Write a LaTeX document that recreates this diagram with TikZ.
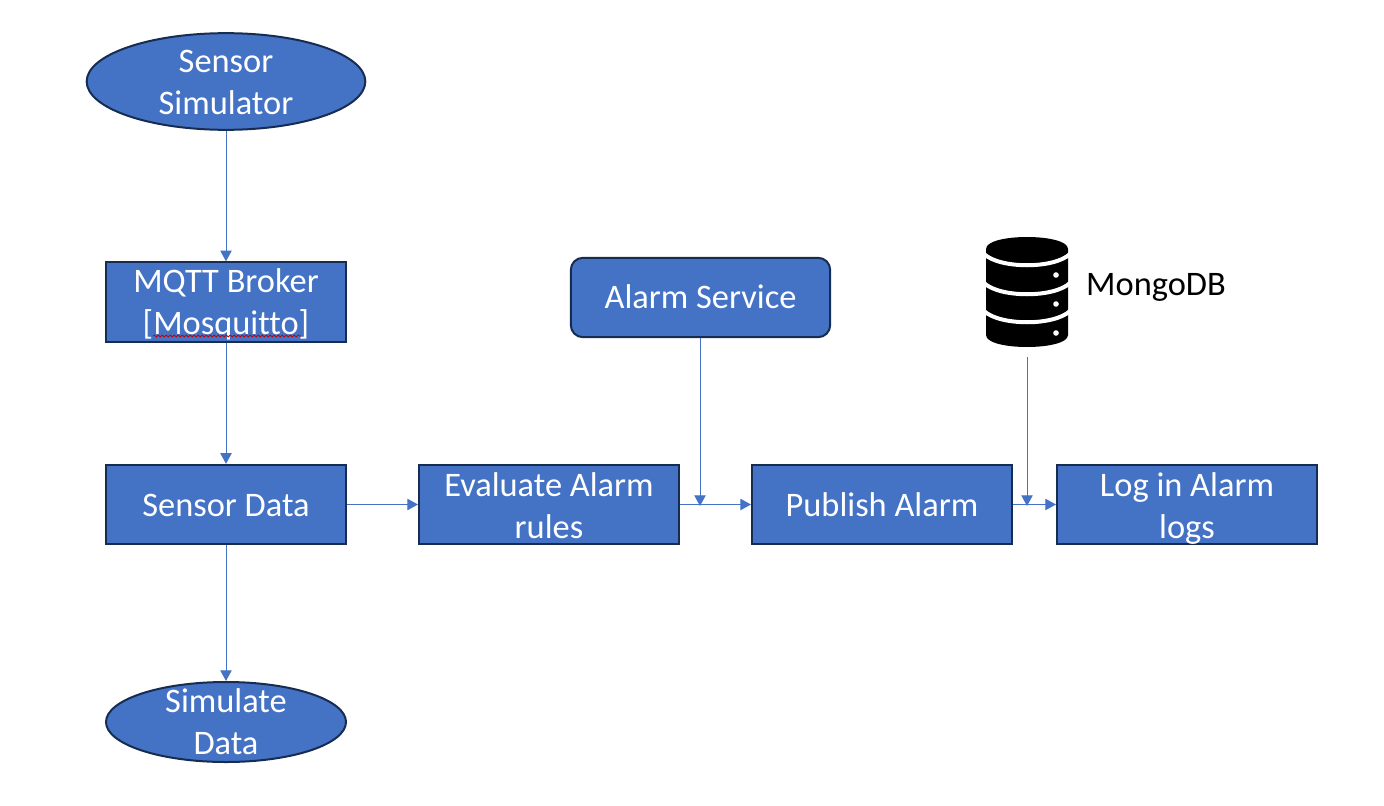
\documentclass[tikz,border=0pt]{standalone}
\usepackage{fontspec}
\setmainfont[Ligatures=NoCommon]{Carlito}
\usetikzlibrary{arrows.meta,shapes.geometric,decorations.pathmorphing}
\definecolor{fillblue}{HTML}{4472C4}
\definecolor{edgeblue}{HTML}{172C51}
\newcommand{\dropped}[2]{\raisebox{\dimexpr -6.45pt-#1\relax}[0pt][0pt]{\begin{tabular}{@{}c@{}}#2\end{tabular}}}
\tikzset{
  x=0.75pt,y=-0.75pt,
  base/.style={draw=edgeblue,line width=1.5pt,fill=fillblue,text=white,align=center,inner sep=0pt,
    font=\fontsize{25.8}{31.5}\selectfont},
  boxnode/.style={base,rectangle,minimum width=180pt,minimum height=59.5pt},
  widebox/.style={base,rectangle,minimum width=195pt,minimum height=59.5pt},
  oval/.style={base,ellipse},
  link/.style={draw=fillblue,line width=0.75pt,-{Triangle[length=8pt,width=8.5pt]}},
  dbwhite/.style={draw=white,line width=3pt}
}
\begin{document}
\begin{tikzpicture}
\useasboundingbox (0,0) rectangle (1384,806);
\node[oval,minimum width=209pt,minimum height=72.5pt] (sim) at (226,81.5) {\dropped{2.2pt}{Sensor\\Simulator}};
\node[boxnode] (mqtt) at (226,302) {\dropped{2.2pt}{MQTT Broker\\{[Mosquitto]}}};
\node[boxnode] (data) at (226,504.5) {\dropped{2.2pt}{Sensor Data}};
\node[oval,minimum width=180pt,minimum height=60pt] (sd) at (226,722) {\dropped{1.9pt}{Simulate\\Data}};
\node[widebox] (eval) at (549,504.5) {\dropped{2.9pt}{Evaluate Alarm\\rules}};
\node[widebox] (pub) at (882,504.5) {\dropped{2.4pt}{Publish Alarm}};
\node[widebox] (log) at (1187,504.5) {\dropped{2.9pt}{Log in Alarm\\logs}};
\node[base,rectangle,rounded corners=9pt,minimum width=194.5pt,minimum height=59.5pt] (svc) at (700.5,297.5) {\dropped{1.6pt}{Alarm Service}};
\node[font=\fontsize{25.8}{31.5}\selectfont,text=black,inner sep=0pt] (mongo) at (1156,287.5) {MongoDB};
% database icon
\fill[black] (986,249) .. controls (986,233) and (1068,233) .. (1068,249)
  -- (1068,335) .. controls (1068,351) and (986,351) .. (986,335) -- cycle;
\draw[dbwhite] (984,254) .. controls (1000,269) and (1054,269) .. (1070,254);
\draw[dbwhite] (984,283) .. controls (1000,298) and (1054,298) .. (1070,283);
\draw[dbwhite] (984,311) .. controls (1000,326) and (1054,326) .. (1070,311);
\fill[white] (1056,275) circle[radius=2.8] (1056,304) circle[radius=2.8] (1056,333) circle[radius=2.8];
% spell-check squiggle
\draw[red!80!black,line width=0.6pt,decorate,decoration={snake,amplitude=0.7pt,segment length=3pt}] (153,336) -- (301,336);
\coordinate (dbfoot) at (1027,357);
\coordinate (evalpub) at (700,506);
\coordinate (publog) at (1027,506);
\path[link] (sim) -- (mqtt);
\path[link] (mqtt) -- (data);
\path[link] (data) -- (sd);
\path[link] (data.east) -- (eval.west);
\path[link] (eval.east) -- (pub.west);
\path[link] (pub.east) -- (log.west);
\path[link] (svc.south -| evalpub) -- (evalpub);
\path[link] (dbfoot) -- (publog);
\end{tikzpicture}
\end{document}
